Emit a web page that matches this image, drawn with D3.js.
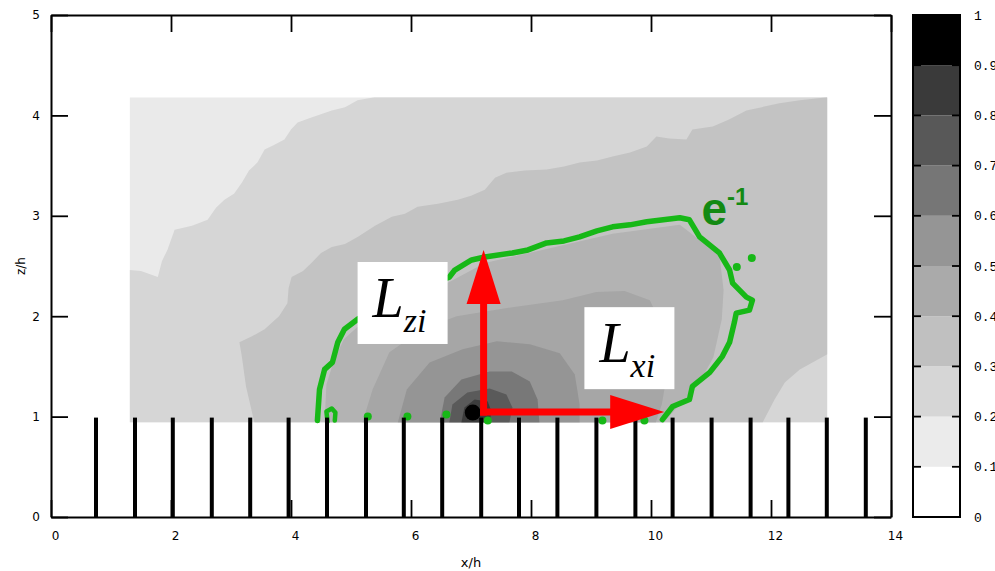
<!DOCTYPE html>
<html>
<head>
<meta charset="utf-8">
<script src="https://cdn.jsdelivr.net/npm/d3@7"></script>
<style>
  html, body { margin: 0; padding: 0; background: #fff; overflow: hidden; }
</style>
</head>
<body>
<div id="chart"></div>
<script>
// ---- data (in x/h and z/h units) ----
const X_TICKS = [0, 2, 4, 6, 8, 10, 12, 14];
const Y_TICKS = [0, 1, 2, 3, 4, 5];

// roughness elements along the ground
const BAR_X = [0.75, 1.40, 2.03, 2.68, 3.32, 3.96, 4.60, 5.25, 5.88, 6.52, 7.17,
               7.80, 8.44, 9.09, 9.74, 10.36, 11.01, 11.66, 12.29, 12.93, 13.58];
const BAR_Z = 0.99;

// extent of the measured field
const FIELD_X = [1.31, 12.94];
const FIELD_Z = [0.94, 4.18];

// contour bands, outer to inner
const BAND_1 = [[1.31, 2.46], [1.50, 2.45], [1.78, 2.39], [1.85, 2.55], [1.94, 2.66], [2.06, 2.86],
  [2.35, 2.90], [2.61, 2.96], [2.75, 3.08], [2.89, 3.16], [3.05, 3.22], [3.18, 3.33], [3.30, 3.45],
  [3.44, 3.53], [3.56, 3.66], [3.70, 3.70], [3.89, 3.76], [4.00, 3.86], [4.11, 3.93], [4.34, 3.98],
  [4.68, 4.05], [4.90, 4.08], [5.11, 4.15], [5.39, 4.18], [12.94, 4.18], [12.94, 0.94], [1.31, 0.94]];
const BAND_2 = [[3.39, 0.94], [3.25, 1.30], [3.18, 1.60], [3.14, 1.74], [3.35, 1.80], [3.56, 1.87],
  [3.80, 2.00], [3.94, 2.13], [3.96, 2.28], [4.01, 2.39], [4.20, 2.45], [4.34, 2.53], [4.50, 2.63],
  [4.68, 2.69], [4.90, 2.72], [5.11, 2.79], [5.40, 2.90], [5.68, 2.99], [5.90, 3.02], [6.11, 3.09],
  [6.45, 3.12], [6.78, 3.16], [7.00, 3.20], [7.23, 3.26], [7.40, 3.38], [7.59, 3.43], [7.90, 3.45],
  [8.26, 3.46], [8.55, 3.49], [8.81, 3.53], [9.10, 3.55], [9.36, 3.59], [9.65, 3.63], [9.93, 3.69],
  [10.09, 3.79], [10.30, 3.77], [10.59, 3.76], [10.69, 3.86], [11.03, 3.89], [11.30, 3.96],
  [11.59, 4.05], [12.14, 4.12], [12.48, 4.15], [12.94, 4.18], [12.94, 1.62], [12.48, 1.47],
  [12.23, 1.34], [12.06, 1.17], [11.86, 0.94]];
const BAND_3 = [[4.56, 0.94], [4.59, 1.32], [4.71, 1.55], [4.88, 1.77], [5.14, 1.91], [5.81, 2.13],
  [6.64, 2.34], [7.23, 2.53], [8.26, 2.67], [9.36, 2.82], [10.48, 2.91], [10.81, 2.76], [11.14, 2.61],
  [11.21, 2.26], [11.18, 1.97], [11.04, 1.59], [10.81, 1.34], [10.51, 1.14], [10.21, 0.94]];
const BAND_4 = [[5.19, 0.94], [5.36, 1.27], [5.64, 1.64], [6.19, 1.87], [6.76, 2.00], [7.69, 2.09],
  [8.53, 2.16], [9.09, 2.24], [9.56, 2.25], [9.98, 2.16], [10.21, 1.87], [10.28, 1.47], [10.18, 1.12],
  [10.08, 0.94]];
const BAND_5 = [[5.78, 0.94], [5.93, 1.27], [6.31, 1.54], [6.86, 1.67], [7.43, 1.75], [7.98, 1.72],
  [8.48, 1.63], [8.73, 1.42], [8.81, 1.12], [8.81, 0.94]];
const BAND_6 = [[6.48, 0.94], [6.56, 1.19], [6.84, 1.37], [7.31, 1.45], [7.68, 1.45], [7.98, 1.35],
  [8.11, 1.17], [8.14, 0.94]];
const BAND_7 = [[6.64, 0.94], [6.69, 1.12], [6.94, 1.24], [7.31, 1.28], [7.59, 1.22], [7.69, 1.09],
  [7.64, 0.94]];
const BAND_8 = [[6.84, 0.94], [6.89, 1.09], [7.06, 1.17], [7.28, 1.15], [7.34, 1.05], [7.31, 0.94]];
const SOURCE = [7.03, 1.04];

// e^-1 iso-line
const E1_LINE = [[4.44, 0.96], [4.475, 1.27], [4.56, 1.47], [4.69, 1.54], [4.78, 1.74], [4.89, 1.87],
  [5.11, 1.97], [5.81, 2.21], [6.64, 2.39], [6.73, 2.46], [7.01, 2.56], [7.23, 2.59], [7.69, 2.63],
  [7.95, 2.66], [8.26, 2.73], [8.55, 2.75], [8.81, 2.79], [9.10, 2.85], [9.36, 2.89], [9.65, 2.91],
  [9.93, 2.94], [10.48, 2.98], [10.64, 2.96], [10.81, 2.79], [11.14, 2.63], [11.31, 2.46],
  [11.36, 2.33], [11.59, 2.19], [11.69, 2.16], [11.64, 2.06], [11.42, 2.03], [11.39, 1.94],
  [11.31, 1.74], [11.19, 1.60], [10.98, 1.44], [10.69, 1.30], [10.64, 1.17], [10.36, 1.10],
  [10.19, 0.97]];
const E1_LOOP = [[4.61, 0.95], [4.59, 1.05], [4.68, 1.08], [4.74, 1.04], [4.73, 0.96]];
const E1_DOTS = [[5.28, 1.00], [5.94, 1.00], [6.59, 1.02], [7.28, 0.96], [9.19, 0.96], [9.89, 0.96],
  [11.43, 2.49], [11.68, 2.58]];

// length-scale arrows and labels
const ARROW_ORIGIN = [7.21, 1.045];
const ARROW_TIPS = [[7.21, 2.66], [10.22, 1.045]];
const LABEL_POS = [[5.11, 2.54], [8.89, 2.09]];
const LABEL_SUB = ["zi", "xi"];
const E1_LABEL_POS = [10.84, 2.91];

// colour bar
const CB_LEVELS = [0, 0.1, 0.2, 0.3, 0.4, 0.5, 0.6, 0.7, 0.8, 0.9, 1];
const CB_LABELS = ["0", "0.1", "0.2", "0.3", "0.4", "0.5", "0.6", "0.7", "0.8", "0.9", "1"];
const CB_COLORS = ["#ffffff", "#ebebeb", "#d6d6d6", "#c0c0c0", "#aaaaaa", "#959595",
                   "#767676", "#585858", "#3a3a3a", "#000000"];

// ---- drawing ----
const W = 995, H = 571;
const FIELD_BG = "#eaeaea";
const BAND_COLORS = ["#d6d6d6", "#c3c3c3", "#b3b3b3", "#a6a6a6", "#959595", "#787878", "#5a5a5a", "#3c3c3c"];
const BANDS = [BAND_1, BAND_2, BAND_3, BAND_4, BAND_5, BAND_6, BAND_7, BAND_8];
const GREEN = "#17b817";

const x = d3.scaleLinear().domain([0, 14]).range([51, 891]);
const y = d3.scaleLinear().domain([0, 5]).range([517, 15]);
const cy = d3.scaleLinear().domain([0, 1]).range([517, 15]);

const svg = d3.select("#chart").append("svg")
  .attr("width", W).attr("height", H)
  .style("display", "block");

const line = d3.line().x(d => x(d[0])).y(d => y(d[1]));

// clip the field to its measured rectangle
svg.append("clipPath").attr("id", "fieldClip").append("rect")
  .attr("x", x(FIELD_X[0])).attr("y", y(FIELD_Z[1]))
  .attr("width", x(FIELD_X[1]) - x(FIELD_X[0]))
  .attr("height", y(FIELD_Z[0]) - y(FIELD_Z[1]));

const field = svg.append("g").attr("clip-path", "url(#fieldClip)");
field.append("rect")
  .attr("x", x(FIELD_X[0])).attr("y", y(FIELD_Z[1]))
  .attr("width", x(FIELD_X[1]) - x(FIELD_X[0]))
  .attr("height", y(FIELD_Z[0]) - y(FIELD_Z[1]))
  .attr("fill", FIELD_BG);
field.selectAll("path.band")
  .data(BANDS)
  .join("path")
  .attr("class", "band")
  .attr("d", d => line(d) + "Z")
  .attr("fill", (d, i) => BAND_COLORS[i]);

// iso-line e^-1
svg.append("path")
  .attr("d", line(E1_LINE))
  .attr("fill", "none").attr("stroke", GREEN)
  .attr("stroke-width", 5.5).attr("stroke-linejoin", "round").attr("stroke-linecap", "round");
svg.append("path")
  .attr("d", line(E1_LOOP))
  .attr("fill", "none").attr("stroke", GREEN)
  .attr("stroke-width", 4.5).attr("stroke-linejoin", "round").attr("stroke-linecap", "round");
svg.append("g").selectAll("circle")
  .data(E1_DOTS)
  .join("circle")
  .attr("cx", d => x(d[0])).attr("cy", d => y(d[1]))
  .attr("r", 4).attr("fill", GREEN);

// roughness bars
svg.append("g").selectAll("rect")
  .data(BAR_X)
  .join("rect")
  .attr("x", d => x(d) - 2)
  .attr("y", y(BAR_Z))
  .attr("width", 4)
  .attr("height", y(0) - y(BAR_Z))
  .attr("fill", "#000");

// source
svg.append("circle")
  .attr("cx", x(SOURCE[0])).attr("cy", y(SOURCE[1]))
  .attr("r", 8).attr("fill", "#000");

// arrows
const HEAD_LEN = 54, HEAD_W = 17;
const arrows = svg.append("g");
ARROW_TIPS.forEach(t => {
  const ox = x(ARROW_ORIGIN[0]), oy = y(ARROW_ORIGIN[1]);
  const tx = x(t[0]), ty = y(t[1]);
  const len = Math.hypot(tx - ox, ty - oy);
  const ux = (tx - ox) / len, uy = (ty - oy) / len;
  const bx = tx - ux * HEAD_LEN, by = ty - uy * HEAD_LEN;
  arrows.append("line")
    .attr("x1", ox).attr("y1", oy).attr("x2", bx).attr("y2", by)
    .attr("stroke", "#ff0000").attr("stroke-width", 7).attr("stroke-linecap", "square");
  arrows.append("path")
    .attr("d", `M${tx},${ty}L${bx - uy * HEAD_W},${by + ux * HEAD_W}L${bx + uy * HEAD_W},${by - ux * HEAD_W}Z`)
    .attr("fill", "#ff0000");
});

// L labels in white boxes
const labels = svg.append("g").selectAll("g")
  .data(LABEL_POS)
  .join("g")
  .attr("transform", d => `translate(${x(d[0])},${y(d[1])})`);
labels.append("rect")
  .attr("width", 90).attr("height", 82).attr("fill", "#fff");
labels.append("text")
  .attr("x", 15).attr("y", 55)
  .attr("font-family", "Liberation Serif, Times New Roman, serif")
  .attr("font-style", "italic")
  .attr("font-size", 56)
  .attr("fill", "#000")
  .text("L")
  .append("tspan")
  .attr("dy", 15)
  .attr("font-size", 34)
  .text((d, i) => LABEL_SUB[i]);

// e^-1 label
const eLabel = svg.append("text")
  .attr("x", x(E1_LABEL_POS[0])).attr("y", y(E1_LABEL_POS[1]))
  .attr("font-family", "Liberation Sans, Arial, sans-serif")
  .attr("font-weight", "bold")
  .attr("font-size", 46)
  .attr("fill", "#138a13")
  .text("e");
eLabel.append("tspan")
  .attr("dy", -20)
  .attr("font-size", 24)
  .text("-1");

// axes / frame
const fmt = d3.format("d");
function styleAxis(g) {
  g.select(".domain").attr("stroke-width", 2);
  g.selectAll(".tick line").attr("stroke-width", 1.8);
  g.attr("font-family", "DejaVu Sans, Liberation Sans, sans-serif").attr("font-size", 12);
  g.selectAll(".tick text").attr("fill", "#000");
}
svg.append("g")
  .attr("transform", `translate(0,${y(0)})`)
  .call(d3.axisBottom(x).tickValues(X_TICKS).tickFormat(fmt).tickSize(-17).tickSizeOuter(0).tickPadding(14))
  .call(styleAxis)
  .call(g => g.selectAll(".tick text").attr("dx", 4));
svg.append("g")
  .attr("transform", `translate(0,${y(5)})`)
  .call(d3.axisTop(x).tickValues(X_TICKS).tickSize(-17).tickSizeOuter(0).tickFormat(""))
  .call(styleAxis);
svg.append("g")
  .attr("transform", `translate(${x(0)},0)`)
  .call(d3.axisLeft(y).tickValues(Y_TICKS).tickFormat(fmt).tickSize(-17).tickSizeOuter(0).tickPadding(11))
  .call(styleAxis);
svg.append("g")
  .attr("transform", `translate(${x(14)},0)`)
  .call(d3.axisRight(y).tickValues(Y_TICKS).tickSize(-17).tickSizeOuter(0).tickFormat(""))
  .call(styleAxis);

// axis titles
svg.append("text")
  .attr("x", 471).attr("y", 567)
  .attr("text-anchor", "middle")
  .attr("font-family", "DejaVu Sans, Liberation Sans, sans-serif").attr("font-size", 13)
  .text("x/h");
svg.append("text")
  .attr("transform", "translate(25,266) rotate(-90)")
  .attr("text-anchor", "middle")
  .attr("font-family", "DejaVu Sans, Liberation Sans, sans-serif").attr("font-size", 12)
  .text("z/h");

// colour bar
const CB_X0 = 913, CB_X1 = 960;
const cb = svg.append("g");
cb.selectAll("rect.band")
  .data(CB_COLORS)
  .join("rect")
  .attr("class", "band")
  .attr("x", CB_X0).attr("width", CB_X1 - CB_X0)
  .attr("y", (d, i) => cy(CB_LEVELS[i + 1]))
  .attr("height", (d, i) => cy(CB_LEVELS[i]) - cy(CB_LEVELS[i + 1]))
  .attr("fill", d => d);
cb.selectAll("line.tl")
  .data(CB_LEVELS.slice(1, -1))
  .join("line")
  .attr("class", "tl")
  .attr("x1", CB_X0).attr("x2", CB_X0 + 8)
  .attr("y1", d => cy(d)).attr("y2", d => cy(d))
  .attr("stroke", "#000").attr("stroke-width", 1.8);
cb.selectAll("line.tr")
  .data(CB_LEVELS.slice(1, -1))
  .join("line")
  .attr("class", "tr")
  .attr("x1", CB_X1 - 8).attr("x2", CB_X1)
  .attr("y1", d => cy(d)).attr("y2", d => cy(d))
  .attr("stroke", "#000").attr("stroke-width", 1.8);
cb.append("rect")
  .attr("x", CB_X0).attr("y", cy(1))
  .attr("width", CB_X1 - CB_X0).attr("height", cy(0) - cy(1))
  .attr("fill", "none").attr("stroke", "#000").attr("stroke-width", 2);
cb.selectAll("text")
  .data(CB_LEVELS)
  .join("text")
  .attr("x", 974).attr("y", d => cy(d))
  .attr("dy", "0.35em")
  .attr("font-family", "Liberation Mono, DejaVu Sans Mono, monospace")
  .attr("font-size", 13)
  .text((d, i) => CB_LABELS[i]);
</script>
</body>
</html>
